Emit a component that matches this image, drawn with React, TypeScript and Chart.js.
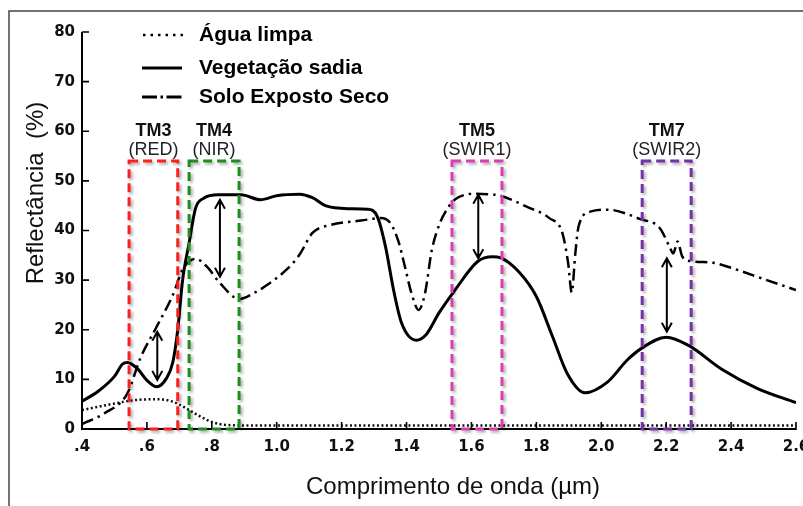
import React, { useEffect, useRef } from 'react';
import { Chart, registerables } from 'chart.js';

Chart.register(...registerables);

// ---- Data ----
const waterX = [0.4, 0.49, 0.56, 0.63, 0.68, 0.72, 0.765, 0.805, 0.85, 0.95, 2.6];
const waterY = [3.8, 5.0, 5.8, 6.0, 5.5, 4.2, 2.5, 1.3, 0.8, 0.7, 0.7];

const vegX = [0.4, 0.45, 0.5, 0.525, 0.54, 0.57, 0.6, 0.63, 0.66, 0.68, 0.695, 0.71, 0.73, 0.75, 0.775, 0.82, 0.89, 0.95, 1.0, 1.07, 1.11, 1.15, 1.22, 1.28, 1.31, 1.335, 1.36, 1.385, 1.43, 1.46, 1.5, 1.545, 1.62, 1.665, 1.69, 1.75, 1.8, 1.85, 1.895, 1.95, 2.02, 2.08, 2.125, 2.2, 2.27, 2.37, 2.48, 2.6];
const vegY = [5.6, 7.6, 10.6, 13.1, 13.4, 12.2, 9.8, 8.5, 10.2, 13.5, 20, 30, 37.5, 44.5, 46.5, 47.2, 47.2, 46.2, 47.0, 47.3, 46.6, 45.0, 44.4, 44.3, 42.8, 36.8, 28.0, 21.3, 17.9, 19.0, 23.4, 27.6, 33.8, 34.7, 34.5, 31.4, 26.7, 18.6, 11.2, 7.3, 9.5, 13.9, 16.3, 18.5, 16.8, 12.1, 8.2, 5.3];

const soilX = [0.4, 0.47, 0.54, 0.58, 0.63, 0.68, 0.71, 0.75, 0.785, 0.825, 0.885, 0.93, 0.97, 1.03, 1.07, 1.11, 1.165, 1.26, 1.32, 1.35, 1.375, 1.395, 1.415, 1.437, 1.457, 1.478, 1.503, 1.53, 1.55, 1.61, 1.65, 1.69, 1.77, 1.84, 1.88, 1.898, 1.909, 1.92, 1.93, 1.966, 2.02, 2.12, 2.18, 2.21, 2.222, 2.235, 2.25, 2.28, 2.345, 2.38, 2.51, 2.6];
const soilY = [1.0, 3.2, 7.2, 14.3, 20.6, 27.0, 32.1, 34.3, 32.7, 29.4, 26.2, 27.4, 29.0, 32.1, 35.1, 39.5, 41.1, 42.0, 42.5, 41.5, 37.8, 32.7, 27.4, 24.0, 27.4, 36.1, 41.5, 44.8, 46.3, 47.4, 47.3, 47.0, 44.8, 42.5, 39.5, 33.4, 27.5, 35.4, 40.8, 43.8, 44.2, 42.3, 40.5, 36.8, 35.4, 37.8, 34.7, 33.8, 33.5, 32.9, 30.0, 28.0];

const seriesNames = ['Água limpa', 'Vegetação sadia', 'Solo Exposto Seco'];

const xTicks = [0.4, 0.6, 0.8, 1.0, 1.2, 1.4, 1.6, 1.8, 2.0, 2.2, 2.4, 2.6];
const yTicks = [0, 10, 20, 30, 40, 50, 60, 70, 80];

const bandNames = ['TM3', 'TM4', 'TM5', 'TM7'];
const bandSubs = ['(RED)', '(NIR)', '(SWIR1)', '(SWIR2)'];
const bandStart = [0.545, 0.73, 1.54, 2.126];
const bandEnd = [0.695, 0.884, 1.694, 2.277];
const bandTop = 54;
const bandColors = ['#ff1e1e', '#1f8c1f', '#dc3cb4', '#7432aa'];

const arrowX = [0.632, 0.825, 1.621, 2.202];
const arrowTop = [19.6, 46.2, 47.2, 34.4];
const arrowBottom = [9.9, 30.7, 34.4, 19.6];

const xTitle = 'Comprimento de onda (µm)';
const yTitle = 'Reflectância  (%)';

const SANS = '"Liberation Sans", Arial, Helvetica, sans-serif';

function fmtX(v: number) {
  const r = Math.round(v * 10) / 10;
  if (r < 1) return '.' + Math.round(r * 10);
  return r.toFixed(1);
}

export default function App() {
  const ref = useRef<HTMLCanvasElement>(null);

  useEffect(() => {
    const canvas = ref.current;
    if (!canvas) return;
    const pts = (xs: number[], ys: number[]) => xs.map((x, i) => ({ x, y: ys[i] }));

    const overlay = {
      id: 'overlay',
      afterDatasetsDraw(chart: any) {
        const { ctx, scales } = chart;
        const xs = scales.x;
        const ys = scales.y;
        const X = (v: number) => xs.getPixelForValue(v);
        const Y = (v: number) => ys.getPixelForValue(v);
        const x0 = X(xTicks[0]);
        const x1 = X(xTicks[xTicks.length - 1]);
        const y0 = Y(0);
        const yT = Y(80);

        ctx.save();
        // axes
        ctx.strokeStyle = '#000';
        ctx.lineWidth = 2;
        ctx.setLineDash([]);
        ctx.beginPath();
        ctx.moveTo(x0, yT);
        ctx.lineTo(x0, y0);
        ctx.lineTo(x1, y0);
        ctx.stroke();
        ctx.lineWidth = 1.6;
        ctx.beginPath();
        yTicks.forEach((v) => {
          const py = Y(v);
          ctx.moveTo(x0, py);
          ctx.lineTo(x0 + 7, py);
        });
        xTicks.forEach((v) => {
          const px = X(v);
          ctx.moveTo(px, y0 + 1);
          ctx.lineTo(px, y0 - 7);
        });
        ctx.stroke();

        // band boxes
        bandNames.forEach((_, i) => {
          const l = X(bandStart[i]);
          const r = X(bandEnd[i]);
          const t = Y(bandTop);
          const b = Y(0);
          ctx.save();
          ctx.shadowColor = 'rgba(0,0,0,0.35)';
          ctx.shadowBlur = 3;
          ctx.shadowOffsetX = 2;
          ctx.shadowOffsetY = 2;
          ctx.strokeStyle = bandColors[i];
          ctx.lineWidth = 3;
          ctx.setLineDash([9, 5]);
          ctx.strokeRect(l, t, r - l, b - t);
          ctx.restore();
        });

        // arrows
        ctx.strokeStyle = '#000';
        ctx.lineWidth = 2;
        ctx.setLineDash([]);
        arrowX.forEach((av, i) => {
          const px = X(av);
          const pt = Y(arrowTop[i]);
          const pb = Y(arrowBottom[i]);
          ctx.beginPath();
          ctx.moveTo(px, pt);
          ctx.lineTo(px, pb);
          ctx.moveTo(px - 5, pt + 9);
          ctx.lineTo(px, pt);
          ctx.lineTo(px + 5, pt + 9);
          ctx.moveTo(px - 5, pb - 9);
          ctx.lineTo(px, pb);
          ctx.lineTo(px + 5, pb - 9);
          ctx.stroke();
        });

        // band labels
        ctx.textAlign = 'center';
        ctx.textBaseline = 'middle';
        bandNames.forEach((n, i) => {
          const cx = (X(bandStart[i]) + X(bandEnd[i])) / 2;
          const t = Y(bandTop);
          ctx.fillStyle = '#111';
          ctx.font = `bold 18px ${SANS}`;
          ctx.fillText(n, cx, t - 30);
          ctx.fillStyle = '#222';
          ctx.font = `18px ${SANS}`;
          ctx.fillText(bandSubs[i], cx, t - 11);
        });
        ctx.restore();
      },
      afterDraw(chart: any) {
        const { ctx, chartArea } = chart;
        ctx.save();
        // legend
        const lx0 = 142;
        const lx1 = 182;
        const ly = [35, 68, 97];
        ctx.strokeStyle = '#000';
        ctx.lineCap = 'butt';
        ctx.lineWidth = 2.5;
        ctx.setLineDash([2.5, 5]);
        ctx.beginPath();
        ctx.moveTo(lx0 + 1, ly[0]);
        ctx.lineTo(lx1 + 1, ly[0]);
        ctx.stroke();
        ctx.setLineDash([]);
        ctx.lineWidth = 3;
        ctx.beginPath();
        ctx.moveTo(lx0, ly[1]);
        ctx.lineTo(lx1, ly[1]);
        ctx.stroke();
        ctx.lineWidth = 3;
        ctx.setLineDash([15, 3.5, 2.5, 3.5, 15]);
        ctx.beginPath();
        ctx.moveTo(lx0, ly[2]);
        ctx.lineTo(lx1, ly[2]);
        ctx.stroke();
        ctx.setLineDash([]);

        ctx.fillStyle = '#000';
        ctx.font = `bold 21px ${SANS}`;
        ctx.textAlign = 'left';
        ctx.textBaseline = 'middle';
        seriesNames.forEach((n, i) => ctx.fillText(n, 199, ly[i]));

        // axis titles
        ctx.fillStyle = '#111';
        ctx.font = `24px ${SANS}`;
        ctx.textAlign = 'center';
        ctx.textBaseline = 'middle';
        ctx.fillText(xTitle, (chartArea.left + chartArea.right) / 2 + 14, 487);
        ctx.save();
        ctx.translate(36, 193);
        ctx.rotate(-Math.PI / 2);
        ctx.fillText(yTitle, 0, 0);
        ctx.restore();

        // frame
        ctx.strokeStyle = '#444';
        ctx.lineWidth = 1.5;
        ctx.beginPath();
        ctx.moveTo(9, 506);
        ctx.lineTo(9, 11);
        ctx.lineTo(803, 11);
        ctx.stroke();
        ctx.restore();
      },
    };

    const chart = new Chart(canvas, {
      type: 'line',
      data: {
        datasets: [
          {
            label: seriesNames[0],
            data: pts(waterX, waterY),
            borderColor: '#111',
            borderWidth: 2.5,
            borderDash: [2, 2.5],
            pointRadius: 0,
            tension: 0.4,
            cubicInterpolationMode: 'monotone',
            fill: false,
          },
          {
            label: seriesNames[1],
            data: pts(vegX, vegY),
            borderColor: '#000',
            borderWidth: 3,
            pointRadius: 0,
            tension: 0.4,
            cubicInterpolationMode: 'monotone',
            fill: false,
          },
          {
            label: seriesNames[2],
            data: pts(soilX, soilY),
            borderColor: '#000',
            borderWidth: 2.5,
            borderDash: [12, 5, 2.5, 5],
            pointRadius: 0,
            tension: 0.4,
            cubicInterpolationMode: 'monotone',
            fill: false,
          },
        ],
      } as any,
      options: {
        responsive: false,
        animation: false,
        layout: { padding: { left: 0, right: 7, top: 32, bottom: 0 } },
        plugins: { legend: { display: false }, tooltip: { enabled: false }, title: { display: false } },
        scales: {
          x: {
            type: 'linear',
            min: xTicks[0],
            max: xTicks[xTicks.length - 1],
            grid: { display: false, drawTicks: false },
            border: { display: false },
            afterBuildTicks: (s: any) => {
              s.ticks = xTicks.map((v) => ({ value: v }));
            },
            afterFit: (s: any) => {
              s.height = 77;
              s.paddingLeft = 0;
              s.paddingRight = 0;
            },
            ticks: {
              autoSkip: false,
              maxRotation: 0,
              padding: 9,
              color: '#111',
              font: { family: '"DejaVu Sans", sans-serif', weight: 'bold', size: 15 },
              callback: (v: any) => fmtX(Number(v)),
            },
          },
          y: {
            type: 'linear',
            min: 0,
            max: 80,
            grid: { display: false, drawTicks: false },
            border: { display: false },
            afterBuildTicks: (s: any) => {
              s.ticks = yTicks.map((v) => ({ value: v }));
            },
            afterFit: (s: any) => {
              s.width = 82;
              s.paddingTop = 0;
              s.paddingBottom = 0;
            },
            ticks: {
              padding: 7,
              color: '#111',
              font: { family: '"DejaVu Sans", sans-serif', weight: 'bold', size: 15 },
              callback: (v: any) => String(v),
            },
          },
        },
      } as any,
      plugins: [overlay],
    });
    return () => chart.destroy();
  }, []);

  return (
    <canvas
      ref={ref}
      width={803}
      height={506}
      style={{ position: 'fixed', left: 0, top: 0, width: 803, height: 506, display: 'block' }}
    />
  );
}
